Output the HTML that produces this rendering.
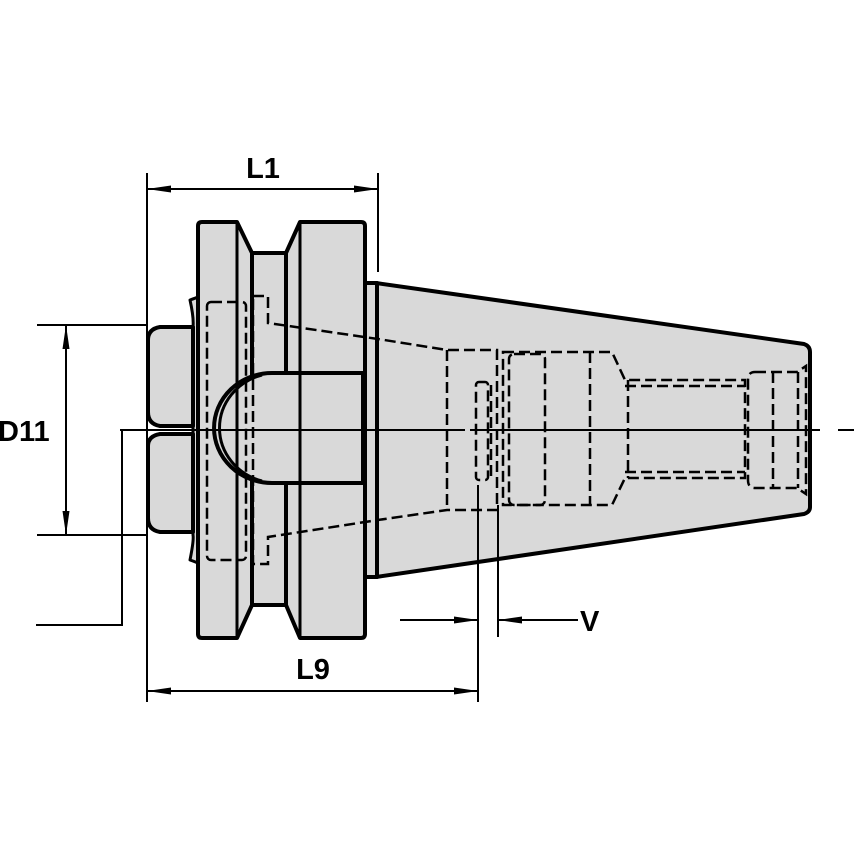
<!DOCTYPE html>
<html><head><meta charset="utf-8"><style>
html,body{margin:0;padding:0;background:#fff;}
svg{display:block;}
text{font-family:"Liberation Sans",Arial,sans-serif;font-weight:bold;font-size:29px;fill:#000;}
</style></head><body>
<svg width="854" height="854" viewBox="0 0 854 854" xmlns="http://www.w3.org/2000/svg">
<defs>
<marker id="ar" viewBox="0 0 24 10" refX="24" refY="5" markerWidth="24" markerHeight="10" markerUnits="userSpaceOnUse" orient="auto-start-reverse">
<path d="M0,1.5 L24,5 L0,8.5 Z" fill="#000"/>
</marker>
</defs>
<g fill="#d9d9d9" stroke="#000" stroke-width="4" stroke-linejoin="round">
<path d="M376,283 L804,344 Q810,346 810,352 L810,507 Q810,512 804,514 L376,577 Z"/>
<rect x="365" y="283" width="12" height="294"/>
<path d="M190,300 Q196,298 200,296 L200,564 Q196,562 190,560 Q194,540 193,535 L193,327 Q194,318 190,300 Z" stroke-width="3"/>
<path d="M160,327 L193,327 L193,426 L160,426 Q148,424 148,412 L148,340 Q148,329 160,327 Z"/>
<path d="M160,434 L193,434 L193,532 L160,532 Q148,530 148,518 L148,446 Q148,436 160,434 Z"/>
<rect x="252" y="253" width="34" height="352"/>
<path d="M202,222 L237,222 L252,253 L252,605 L237,638 L202,638 Q198,638 198,634 L198,226 Q198,222 202,222 Z"/>
<path d="M300,222 L361,222 Q365,222 365,226 L365,634 Q365,638 361,638 L300,638 L286,605 L286,253 Z"/>
<path d="M272,373 L363,373 L363,483 L272,483 A58,55 0 0 1 272,373 Z"/>
</g>
<g fill="none" stroke="#000" stroke-width="3">
<line x1="237" y1="222" x2="237" y2="638"/>
<line x1="300" y1="222" x2="300" y2="638"/>
<path d="M262,375 A58,55 0 0 0 262,481"/>
</g>
<g fill="none" stroke="#000" stroke-width="2.5" stroke-dasharray="11,5">
<rect x="207" y="302" width="39" height="258" rx="4"/>
<path d="M253,296 L268,296 L268,323 L378,339 L447,350 L497,350 L497,510 L447,510 L378,520 L268,537 L268,564 L253,564 Z"/>
<line x1="447" y1="350" x2="447" y2="510"/>
<rect x="476" y="382" width="12" height="98" rx="3"/>
<line x1="491" y1="385" x2="491" y2="476"/>
<path d="M503,352 L612,352 L625,380 L745,380 L745,478 L625,478 L612,505 L503,505 Z"/>
<rect x="509" y="354" width="36" height="151" rx="5"/>
<line x1="590" y1="352" x2="590" y2="505"/>
<line x1="628" y1="380" x2="628" y2="478"/>
<line x1="625" y1="386" x2="745" y2="386"/>
<line x1="625" y1="472" x2="745" y2="472"/>
<path d="M755,372 L797,372 L806,366 L806,494 L797,488 L755,488 Q748,488 748,480 L748,380 Q748,372 755,372 Z"/>
<line x1="773" y1="372" x2="773" y2="488"/>
<line x1="798" y1="372" x2="798" y2="488"/>
</g>
<g stroke="#000" stroke-width="2" fill="none">
<line x1="120" y1="430" x2="465" y2="430"/>
<line x1="470" y1="430" x2="820" y2="430"/>
<line x1="838" y1="430" x2="854" y2="430"/>
<polyline points="120,430 122,430 122,625 36,625"/>
<line x1="147" y1="173" x2="147" y2="702"/>
<line x1="378" y1="173" x2="378" y2="272"/>
<line x1="478" y1="485" x2="478" y2="702"/>
<line x1="498" y1="505" x2="498" y2="637"/>
<line x1="37" y1="325" x2="148" y2="325"/>
<line x1="37" y1="535" x2="148" y2="535"/>
<line x1="147" y1="189" x2="378" y2="189" marker-start="url(#ar)" marker-end="url(#ar)"/>
<line x1="147" y1="691" x2="478" y2="691" marker-start="url(#ar)" marker-end="url(#ar)"/>
<line x1="66" y1="325" x2="66" y2="535" marker-start="url(#ar)" marker-end="url(#ar)"/>
<line x1="400" y1="620" x2="478" y2="620" marker-end="url(#ar)"/>
<line x1="578" y1="620" x2="498" y2="620" marker-end="url(#ar)"/>
</g>
<text x="263" y="178" text-anchor="middle">L1</text>
<text x="313" y="679" text-anchor="middle">L9</text>
<text x="-2" y="441">D11</text>
<text x="580" y="631">V</text>
</svg>
</body></html>
